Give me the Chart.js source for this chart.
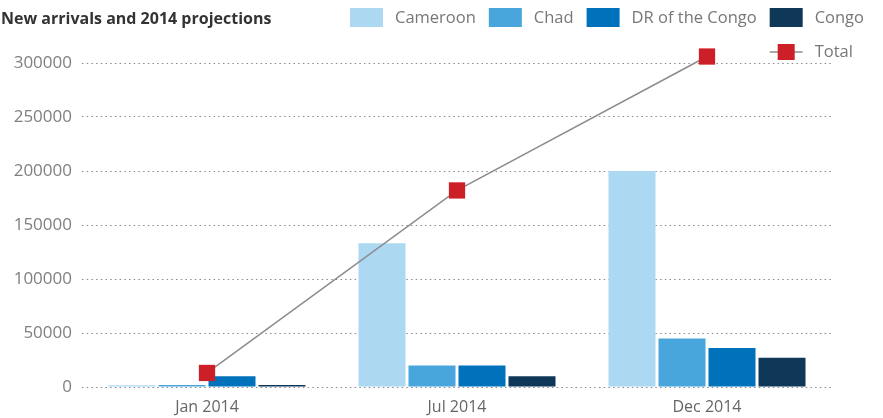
<!DOCTYPE html>
<html>
<head>
<meta charset="utf-8">
<script src="https://cdn.jsdelivr.net/npm/chart.js@4/dist/chart.umd.min.js"></script>
<style>
html,body{margin:0;padding:0;background:#fff;}
#wrap{width:883px;height:418px;position:relative;}
</style>
</head>
<body>
<div id="wrap"><canvas id="c" width="883" height="418"></canvas></div>
<script>
const title = "New arrivals and 2014 projections";
const categories = ["Jan 2014", "Jul 2014", "Dec 2014"];
const cameroon = [1600, 133000, 200000];
const chad = [1800, 20000, 45000];
const drc = [10000, 20000, 36000];
const congo = [1800, 10000, 27000];
const total = [13000, 182000, 306000];
const yTicks = [0, 50000, 100000, 150000, 200000, 250000, 300000];

const FONT = "'Open Sans', sans-serif";
const colors = {
  cameroon: "#ADD8F2",
  chad: "#48A6DD",
  drc: "#0072BC",
  congo: "#0E3758",
  total: "#CC1F27",
  line: "#8C8C8C"
};

const headerLegend = {
  id: "headerLegend",
  afterDraw(chart) {
    const ctx = chart.ctx;
    ctx.save();
    ctx.font = "bold 16px " + FONT;
    ctx.fillStyle = "#333333";
    ctx.textBaseline = "alphabetic";
    ctx.textAlign = "left";
    ctx.fillText(title, 1, 24);
    ctx.font = "16.5px " + FONT;
    const bars = chart.data.datasets.filter(d => d.type !== "line");
    const boxW = 33, boxH = 19, boxGap = 12, itemGap = 13;
    const widths = bars.map(d => boxW + boxGap + ctx.measureText(d.label).width);
    const rightEdge = 864;
    let x = rightEdge - widths.reduce((a, b) => a + b, 0) - itemGap * (bars.length - 1);
    let lastX = x;
    ctx.textBaseline = "middle";
    bars.forEach((d, i) => {
      ctx.fillStyle = d.backgroundColor;
      ctx.fillRect(x, 8, boxW, boxH);
      ctx.fillStyle = "#777777";
      ctx.fillText(d.label, x + boxW + boxGap, 18);
      lastX = x;
      x += widths[i] + itemGap;
    });
    const ln = chart.data.datasets.find(d => d.type === "line");
    const cy = 52;
    ctx.strokeStyle = "#555555";
    ctx.lineWidth = 1;
    ctx.beginPath();
    ctx.moveTo(lastX, cy);
    ctx.lineTo(lastX + boxW, cy);
    ctx.stroke();
    ctx.fillStyle = ln.pointBackgroundColor;
    ctx.fillRect(lastX + boxW / 2 - 8.5, cy - 8, 17, 16);
    ctx.fillStyle = "#777777";
    ctx.fillText(ln.label, lastX + boxW + boxGap, cy);
    ctx.restore();
  }
};

new Chart(document.getElementById("c"), {
  data: {
    labels: categories,
    datasets: [
      { type: "line", label: "Total", data: total, order: 0,
        borderColor: colors.line, borderWidth: 1.5,
        pointStyle: "rect", pointRadius: 11.5, pointHoverRadius: 11.5,
        pointBackgroundColor: colors.total, pointBorderColor: colors.total, pointBorderWidth: 0,
        clip: false, tension: 0 },
      { type: "bar", label: "Cameroon", data: cameroon, backgroundColor: colors.cameroon, order: 1 },
      { type: "bar", label: "Chad", data: chad, backgroundColor: colors.chad, order: 1 },
      { type: "bar", label: "DR of the Congo", data: drc, backgroundColor: colors.drc, order: 1 },
      { type: "bar", label: "Congo", data: congo, backgroundColor: colors.congo, order: 1 }
    ]
  },
  options: {
    responsive: false,
    animation: false,
    devicePixelRatio: 1,
    datasets: { bar: { categoryPercentage: 0.8, barPercentage: 0.94 } },
    layout: { padding: { top: 63, right: 51, left: 12, bottom: 0 } },
    plugins: { legend: { display: false }, title: { display: false }, tooltip: { enabled: false } },
    scales: {
      x: {
        afterFit: (axis) => { axis.height = 31; },
        grid: { display: false, drawTicks: false },
        border: { display: false },
        ticks: { color: "#666666", font: { family: FONT, size: 16 }, padding: 11 }
      },
      y: {
        min: 0, max: 300000,
        afterBuildTicks: (axis) => { axis.ticks = yTicks.map(v => ({ value: v })); },
        afterFit: (axis) => { axis.width = 70; },
        grid: { color: "#8a8a8a", lineWidth: 1, drawTicks: false },
        border: { display: false, dash: [1.5, 3.2] },
        ticks: { color: "#7F7F7F", font: { family: FONT, size: 17 }, padding: 10,
                 callback: (v) => String(v) }
      }
    }
  },
  plugins: [headerLegend]
});
</script>
</body>
</html>
